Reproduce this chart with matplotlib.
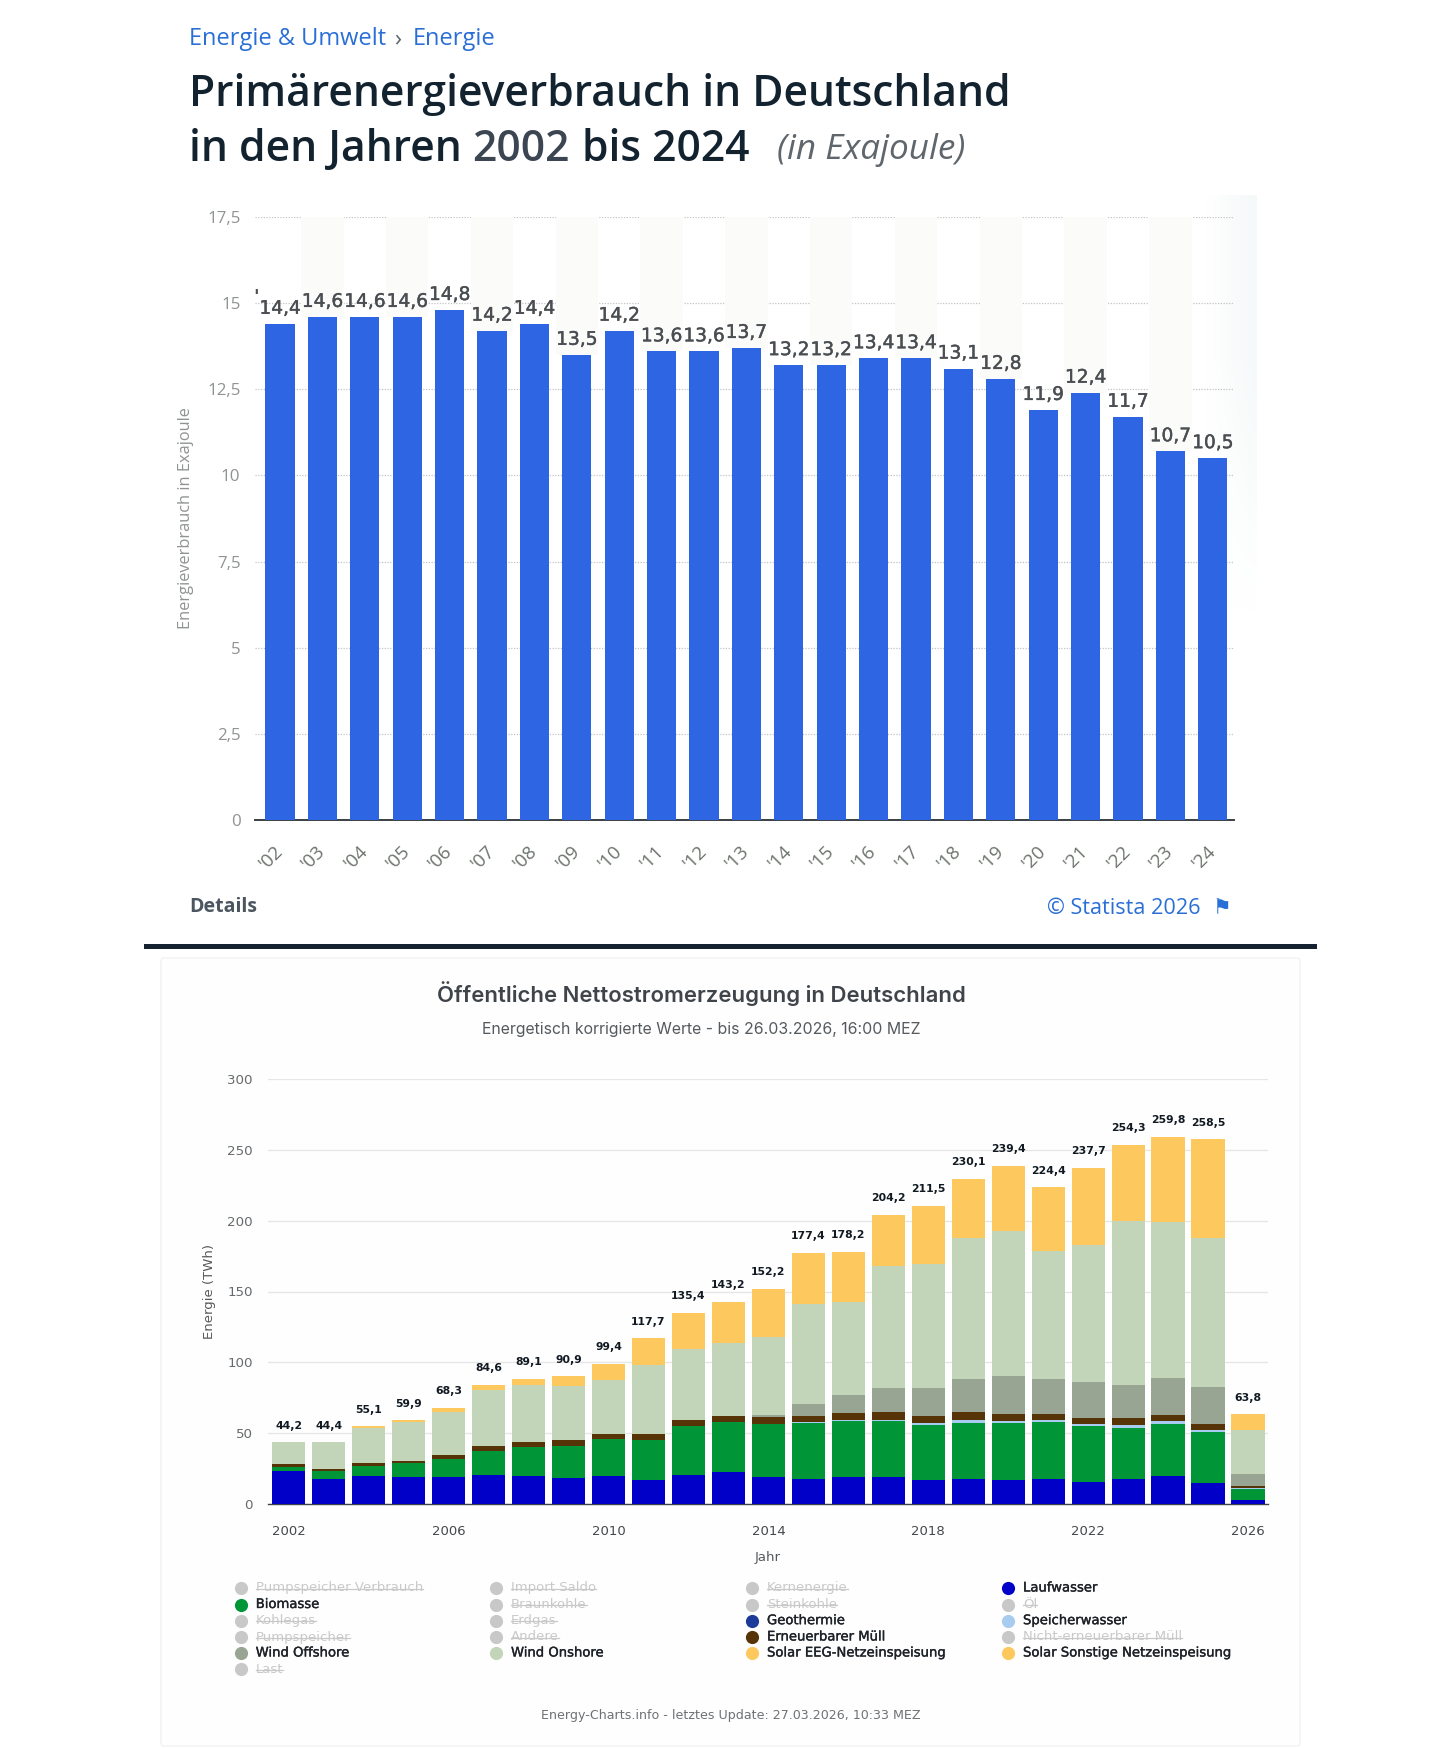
import matplotlib
matplotlib.use("Agg")
import matplotlib.pyplot as plt
from matplotlib.patches import FancyBboxPatch, Rectangle
import matplotlib.patheffects as pe
import numpy as np

W, H = 1442, 1748

# ==========================================
# Data: top chart (Exajoule)
# ==========================================
pev_labels = ["'02", "'03", "'04", "'05", "'06", "'07", "'08", "'09", "'10", "'11", "'12", "'13",
              "'14", "'15", "'16", "'17", "'18", "'19", "'20", "'21", "'22", "'23", "'24"]
pev_values = [14.4, 14.6, 14.6, 14.6, 14.8, 14.2, 14.4, 13.5, 14.2, 13.6, 13.6, 13.7,
              13.2, 13.2, 13.4, 13.4, 13.1, 12.8, 11.9, 12.4, 11.7, 10.7, 10.5]
pev_ticks = [0, 2.5, 5, 7.5, 10, 12.5, 15, 17.5]

# ==========================================
# Data: bottom chart (TWh)
# ==========================================
years = list(range(2002, 2027))
laufwasser = [23.3, 17.7, 19.8, 19.1, 19.1, 20.5, 19.8, 18.4, 19.8, 16.6, 20.7, 22.4, 19.0,
              17.7, 19.0, 19.0, 16.7, 17.7, 16.7, 17.7, 15.8, 17.7, 19.8, 14.8, 2.8]
biomasse = [2.8, 5.6, 7.0, 9.9, 12.9, 17.2, 20.5, 22.8, 26.1, 28.4, 34.1, 35.5, 37.5,
            39.3, 39.6, 39.6, 39.3, 39.7, 40.7, 40.2, 39.3, 36.2, 36.7, 35.8, 7.8]
speicherwasser = [0, 0, 0, 0, 0, 0, 0, 0, 0, 0, 0, 0, 0,
                  0.9, 1.0, 1.0, 1.0, 2.2, 1.5, 1.7, 1.4, 1.7, 2.1, 1.7, 0.9]
muell = [1.9, 1.4, 2.2, 1.6, 2.6, 3.3, 3.2, 4.0, 3.8, 4.2, 4.5, 4.5, 4.9,
         4.2, 4.9, 5.1, 5.0, 5.1, 4.9, 4.2, 4.2, 5.1, 4.4, 4.2, 1.2]
offshore = [0, 0, 0, 0, 0, 0, 0, 0, 0, 0, 0, 0, 1.5,
            8.5, 12.5, 17.2, 19.9, 23.6, 26.8, 24.5, 25.2, 23.6, 26.0, 26.1, 8.5]
onshore = [15.5, 18.8, 24.9, 27.1, 30.6, 39.7, 40.8, 38.1, 37.6, 49.0, 50.2, 51.1, 55.3,
           70.6, 65.9, 86.1, 87.6, 99.3, 102.4, 90.4, 97.0, 115.8, 109.9, 105.0, 31.1]
solar = [0, 0, 0.9, 1.4, 2.8, 3.6, 4.0, 6.9, 11.6, 18.8, 25.4, 29.4, 33.6,
         36.1, 35.1, 36.0, 40.9, 41.9, 45.9, 44.9, 54.4, 53.4, 60.5, 69.9, 11.0]
totals = [44.2, 44.4, 55.1, 59.9, 68.3, 84.6, 89.1, 90.9, 99.4, 117.7, 135.4, 143.2, 152.2,
          177.4, 178.2, 204.2, 211.5, 230.1, 239.4, 224.4, 237.7, 254.3, 259.8, 258.5, 63.8]
energy_ticks = [0, 50, 100, 150, 200, 250, 300]

# Legend: (Name, Farbe oder None wenn ausgeblendet)
legend_cols = [
    [("Pumpspeicher Verbrauch", None), ("Biomasse", "#009638"), ("Kohlegas", None),
     ("Pumpspeicher", None), ("Wind Offshore", "#98a592"), ("Last", None)],
    [("Import Saldo", None), ("Braunkohle", None), ("Erdgas", None), ("Andere", None),
     ("Wind Onshore", "#c3d5b8")],
    [("Kernenergie", None), ("Steinkohle", None), ("Geothermie", "#1b3a9a"),
     ("Erneuerbarer Müll", "#563408"), ("Solar EEG-Netzeinspeisung", "#fdc95f")],
    [("Laufwasser", "#0000c8"), ("Öl", None), ("Speicherwasser", "#a8ccf0"),
     ("Nicht-erneuerbarer Müll", None), ("Solar Sonstige Netzeinspeisung", "#fdc95f")],
]

OPEN = "Open Sans"
INTER = "Inter"
DEJA = "DejaVu Sans"
BLUE = "#2a6fd6"


def px_axes(fig, left, top, right, bottom):
    return fig.add_axes([left / W, 1 - bottom / H, (right - left) / W, (bottom - top) / H])


fig = plt.figure(figsize=(W / 100, H / 100), dpi=100, facecolor="white")

# Hintergrund in Pixelkoordinaten fuer Texte und Deko
bg = fig.add_axes([0, 0, 1, 1])
bg.axis("off")

# faint fading box on the right of the plot
fade = np.zeros((60, 40, 4))
fade[..., :3] = matplotlib.colors.to_rgb("#eef5f5")
fade[..., 3] = np.linspace(0, 0.6, 40)[None, :] * np.clip(np.linspace(1.6, 0, 60), 0, 1)[:, None]
bg.imshow(fade, extent=(1205, 1257, 615, 195), aspect="auto", interpolation="bilinear")
bg.set_xlim(0, W)
bg.set_ylim(H, 0)


def label(x, y, s, size, color, family=OPEN, **kw):
    kw.setdefault("va", "center")
    return bg.text(x, y, s, fontsize=size, color=color, family=family, **kw)


# --- Kopf oben ---
label(189, 39, "Energie & Umwelt", 17, BLUE)
label(394, 39, "›", 17, "#5d6670")
label(413, 39, "Energie", 17, BLUE)
label(189, 95, "Primärenergieverbrauch in Deutschland", 30.7, "#13222f", weight=600)
label(189, 149.5, "in den Jahren", 30.7, "#13222f", weight=600)
label(472, 149.5, "2002", 30.7, "#3c4552", weight=600)
label(582, 149.5, "bis 2024", 30.7, "#13222f", weight=600)
label(777, 150, "(in Exajoule)", 25.3, "#5f666c", style="italic")

# --- Diagramm oben ---
ax1 = px_axes(fig, 255, 217, 1234, 820)
ax1.patch.set_alpha(0)
x1 = np.arange(len(pev_values))
ax1.set_xlim(-0.59, 22.5)
ax1.set_ylim(0, 17.5)
for s in ax1.spines.values():
    s.set_visible(False)
ax1.spines["bottom"].set_visible(True)
ax1.spines["bottom"].set_color("#3a3f44")
ax1.spines["bottom"].set_linewidth(1.4)
odd = x1[1::2]
top_vals = np.array(pev_values)[1::2]
ax1.bar(odd, 17.5 - top_vals, bottom=top_vals, width=1.0, color="#fbfbf9", zorder=1)
ax1.set_axisbelow(True)
ax1.yaxis.grid(True, color="#c4c4c4", linestyle=(0, (1, 1.2)), linewidth=0.9, zorder=2)
ax1.bar(x1, pev_values, width=0.69, color="#2d65e3", zorder=3)
ax1.set_yticks(pev_ticks)
ax1.set_yticklabels([f"{t:g}".replace(".", ",") for t in pev_ticks], fontsize=12.2,
                    color="#8f9391", family=OPEN)
ax1.tick_params(axis="y", length=0, pad=10.5)
ax1.set_xticks(x1)
ax1.set_xticklabels(pev_labels, rotation=45, ha="right", va="center", rotation_mode="anchor",
                    fontsize=13.5, color="#6c736c", family=OPEN)
ax1.tick_params(axis="x", length=0, pad=20.5)
for xi, v in zip(x1, pev_values):
    ax1.annotate(f"{v:.1f}".replace(".", ","), (xi, v), xytext=(0, 11.2), textcoords="offset points",
                 ha="center", va="center", fontsize=13.4, color="#4a4e52", family=DEJA, zorder=5,
                 path_effects=[pe.withStroke(linewidth=0.3, foreground="#4a4e52")])
label(256, 297, "'", 13, "#4a4e52", family=DEJA, ha="center", weight="bold")
label(186, 518, "Energieverbrauch in Exajoule", 11.8, "#8f9391", rotation=90, ha="center")

# --- Fuss oben ---
label(189, 907, "Details", 14, "#4c5660", weight="bold")
label(1047, 908, "© Statista 2026", 15.6, BLUE)
label(1222, 908, "⚑", 15, BLUE, family=DEJA, ha="center")
bg.add_patch(Rectangle((144, 944), 1173, 4.5, color="#14232f", lw=0))

# --- Karte unten ---
bg.add_patch(FancyBboxPatch((161, 958), 1139, 788, boxstyle="round,pad=0,rounding_size=3",
                            facecolor="#fefefe", edgecolor="#f2f2f2", linewidth=1))
label(701, 994, "Öffentliche Nettostromerzeugung in Deutschland", 15.9, "#3e4449", family=INTER,
      ha="center", weight=600)
label(701, 1029.5, "Energetisch korrigierte Werte - bis 26.03.2026, 16:00 MEZ", 11.4, "#555a5e",
      family=INTER, ha="center")

ax2 = px_axes(fig, 268, 1079, 1268, 1504)
ax2.patch.set_alpha(0)
x2 = np.arange(len(years))
ax2.set_xlim(-0.52, 24.5)
ax2.set_ylim(0, 300)
for s in ax2.spines.values():
    s.set_visible(False)
ax2.spines["bottom"].set_visible(True)
ax2.spines["bottom"].set_color("#3f4448")
ax2.spines["bottom"].set_linewidth(1.0)
ax2.set_axisbelow(True)
ax2.yaxis.grid(True, color="#e6e6e6", linewidth=0.9)

bottom = np.zeros(len(years))
stack = [(laufwasser, "#0000c8"), (biomasse, "#009638"), (speicherwasser, "#a8ccf0"),
         (muell, "#563408"), (offshore, "#98a592"), (onshore, "#c3d5b8"), (solar, "#fdc95f")]
for vals, col in stack:
    ax2.bar(x2, vals, bottom=bottom, width=0.83, color=col, zorder=3)
    bottom = bottom + np.array(vals)
for xi, top, tot in zip(x2, bottom, totals):
    ax2.annotate(f"{tot:.1f}".replace(".", ","), (xi, top), xytext=(0, 12), textcoords="offset points",
                 ha="center", va="center", fontsize=7.8, color="#111a22", family=DEJA, weight="bold", zorder=5)
ax2.set_yticks(energy_ticks)
ax2.set_yticklabels([str(t) for t in energy_ticks], fontsize=9.6, color="#666a6c", family=DEJA)
ax2.tick_params(axis="y", length=0, pad=11)
ax2.set_xticks(x2[::4])
ax2.set_xticklabels([str(y) for y in years[::4]], fontsize=9.5, color="#44484c", family=DEJA)
ax2.tick_params(axis="x", length=0, pad=15)
label(210, 1291.5, "Energie (TWh)", 9.5, "#55595c", family=DEJA, rotation=90, ha="center")
label(768, 1558, "Jahr", 9.5, "#55595c", family=DEJA, ha="center")

# --- Legende ---
legend_x = [240.7, 496, 752, 1008]
legend_y = [1588, 1604.5, 1620.7, 1637, 1653, 1669.3]
renderer = fig.canvas.get_renderer()
for cx, col in zip(legend_x, legend_cols):
    for cy, (name, color) in zip(legend_y, col):
        hidden = color is None
        bg.scatter([cx], [cy], s=90, color="#c8c8c8" if hidden else color, lw=0, zorder=3)
        t = label(cx + 15, cy, name, 9.5, "#c9c9c9" if hidden else "#1c2228", family=DEJA)
        if hidden:
            ext = t.get_window_extent(renderer)
            bg.plot([ext.x0, ext.x1], [cy + 0.5, cy + 0.5], color="#c9c9c9", lw=0.9, zorder=3)
        else:
            t.set_path_effects([pe.withStroke(linewidth=0.25, foreground="#1c2228")])
label(731, 1716, "Energy-Charts.info - letztes Update: 27.03.2026, 10:33 MEZ", 9.05, "#6e7276",
      family=DEJA, ha="center")

fig.savefig("out.png", dpi=100)
